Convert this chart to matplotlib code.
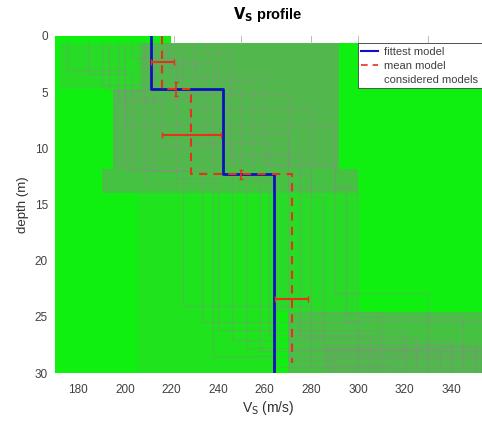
import matplotlib.pyplot as plt
import numpy as np
from matplotlib.lines import Line2D

plt.rcParams['font.family'] = ['Liberation Sans', 'DejaVu Sans']

# fittest model: layer velocities and interface depths
fit_vs = [211, 242, 264]
fit_z = [0, 4.7, 12.3, 30]

# mean model with spread
mean_vs = [216, 228.5, 271.5]
mean_z = [0, 4.7, 12.3, 29.1]
mean_vs_err = [5, 12.7, 7]
mean_vs_errz = [2.35, 8.8, 23.4]
iface_v = [222, 250]
iface_z = [4.7, 12.3]
iface_err = [0.6, 0.4]

# a sample of considered models (4 layers each)
cm_v1 = [184, 190, 197, 203, 208, 213, 220, 225, 230, 235, 240, 175, 200, 218, 206, 193]
cm_z1 = [3.4, 4.4, 5.8, 2.0, 2.8, 4.7, 3.6, 5.2, 6.5, 1.5, 4.0, 3.0, 7.9, 2.4, 5.5, 4.9]
cm_v2 = [203, 208, 215, 222, 234, 250, 260, 270, 280, 245, 255, 200, 290, 238, 228, 212]
cm_z2 = [12.0, 13.1, 9.8, 12.6, 8.6, 12.3, 11.5, 13.5, 14.3, 10.5, 12.8, 11.9, 13.4, 12.2, 9.5, 12.0]
cm_v3 = [233, 240, 246, 258, 270, 280, 290, 300, 285, 275, 265, 225, 295, 252, 262, 238]
cm_z3 = [25.5, 26.2, 27.1, 28.0, 28.9, 24.6, 22.9, 25.0, 27.5, 26.8, 29.5, 24.0, 25.4, 27.8, 26.6, 28.5]
cm_v4 = [300, 320, 340, 353, 290, 310, 330, 345, 350, 325, 315, 280, 353, 335, 305, 353]

# denser clusters of considered models (depth top, depth bottom, vmin, vmax, weight)
zone_top = [0.6, 0.6, 4.7, 11.8, 14.0, 14.0, 24.6, 27.5]
zone_bot = [4.7, 4.7, 11.8, 14.0, 30.0, 24.6, 30.0, 30.0]
zone_vmin = [172, 207, 195, 190, 205, 265, 270, 285]
zone_vmax = [207, 292, 292, 300, 265, 300, 353, 353]
zone_w = [0.2, 0.55, 0.55, 0.45, 0.12, 0.2, 0.45, 0.2]

fig = plt.figure(figsize=(4.82, 4.21), dpi=100)
ax = fig.add_axes([0.114, 0.114, 0.885, 0.8005])

xmin, xmax = 170, 353
green = '#10f010'
ax.set_facecolor('white')
ax.fill_between([xmin, xmax], 0.6, 30, color=green, lw=0)
ax.fill_between([xmin, 220], 0, 0.6, color=green, lw=0)
for x0 in [221, 250, 280, 300, 330]:
    ax.plot([x0, x0], [0, 0.6], color='#b0b0b0', lw=0.6)

for t, b, v0, v1, w in zip(zone_top, zone_bot, zone_vmin, zone_vmax, zone_w):
    ax.fill_betweenx([t, b], v0, v1, color='#8a8a80', alpha=w, lw=0)

for v1, z1, v2, z2, v3, z3, v4 in zip(cm_v1, cm_z1, cm_v2, cm_z2, cm_v3, cm_z3, cm_v4):
    vx = np.repeat([v1, v2, v3, v4], 2)
    vz = np.repeat([0.6, z1, z2, z3, 30], 2)[1:-1]
    ax.plot(vx, vz, color='#a07aa0', lw=0.8, alpha=0.35)

# fittest model step profile
fx = np.repeat(fit_vs, 2)
fz = np.repeat(fit_z, 2)[1:-1]
ax.plot(fx, fz, color='#1010c0', lw=2)

# mean model step profile
mx = np.repeat(mean_vs, 2)
mz = np.repeat(mean_z, 2)[1:-1]
ax.plot(mx, mz, color='#e8301a', lw=1.5, ls=(0, (4, 3)))
ax.errorbar(mean_vs, mean_vs_errz, xerr=mean_vs_err, fmt='none',
            ecolor='#e8301a', elinewidth=1.5, capsize=2)
ax.errorbar(iface_v, iface_z, yerr=iface_err, fmt='none',
            ecolor='#e8301a', elinewidth=1.2, capsize=1.5)

ax.set_xlim(xmin, xmax)
ax.set_ylim(30, 0)
ax.set_xticks(np.arange(180, 341, 20))
ax.set_yticks(np.arange(0, 31, 5))
ax.tick_params(labelsize=8.5, colors='#404040', length=0, pad=8)
ax.tick_params(axis='y', pad=5)
for s in ax.spines.values():
    s.set_visible(False)

ax.set_xlabel('V$_\\mathrm{S}$ (m/s)', fontsize=10, color='#303030', labelpad=2)
ax.set_ylabel('depth (m)', fontsize=9.5, color='#303030', labelpad=4)
ax.set_title('$\\mathbf{V_S}$ profile', fontsize=10.5, fontweight='bold', pad=12)

handles = [Line2D([], [], color='#1010c0', lw=1.5),
           Line2D([], [], color='#e8301a', lw=1.2, ls=(0, (4, 3))),
           Line2D([], [], color='white', lw=1)]
leg = ax.legend(handles, ['fittest model', 'mean model', 'considered models'],
                loc='upper right', bbox_to_anchor=(1.0, 0.978), borderaxespad=0,
                fontsize=8, handlelength=1.5, handletextpad=0.6,
                labelspacing=0.35, fancybox=False, framealpha=1,
                borderpad=0.3)
leg.get_frame().set_edgecolor('#404040')
leg.get_frame().set_linewidth(0.6)
for t in leg.get_texts():
    t.set_color('#404040')

fig.savefig('out.png', dpi=100)
